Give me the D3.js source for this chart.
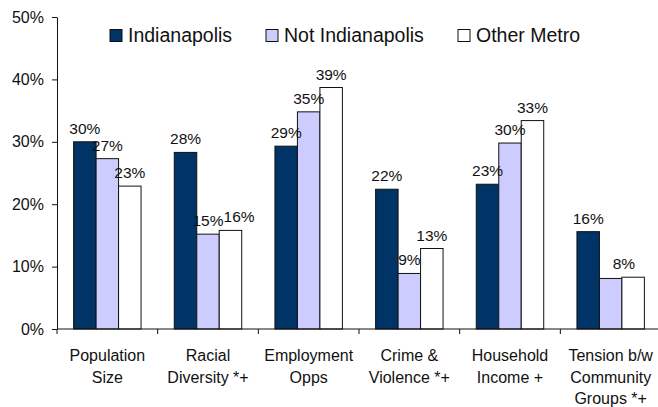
<!DOCTYPE html>
<html>
<head>
<meta charset="utf-8">
<script src="https://cdn.jsdelivr.net/npm/d3@7"></script>
<style>
  body { margin: 0; background: #fff; }
  svg { display: block; font-family: "Liberation Sans", Arial, sans-serif; }
</style>
</head>
<body>
<div class="chart"></div>
<script>
// Chart data
var categories = [
    ["Population", "Size"],
    ["Racial", "Diversity *+"],
    ["Employment", "Opps"],
    ["Crime &", "Violence *+"],
    ["Household", "Income +"],
    ["Tension b/w", "Community", "Groups *+"]
];
var seriesNames = ["Indianapolis", "Not Indianapolis", "Other Metro"];
var seriesColors = ["#003366", "#ccccff", "#ffffff"];
var indianapolis = [30.0, 28.3, 29.3, 22.4, 23.2, 15.6];
var notIndianapolis = [27.3, 15.2, 34.8, 8.9, 29.8, 8.1];
var otherMetro = [22.9, 15.8, 38.7, 12.9, 33.4, 8.3];
var yTicks = [0, 10, 20, 30, 40, 50];

var series = [indianapolis, notIndianapolis, otherMetro];

var width = 658, height = 407;
var margin = {top: 17, right: -3, bottom: 78, left: 57};

var svg = d3.select(".chart").append("svg").attr("width", width).attr("height", height);

var x0 = d3.scaleBand()
    .domain(d3.range(categories.length))
    .range([margin.left, width - margin.right])
    .paddingInner(0.33).paddingOuter(0.165);
var x1 = d3.scaleBand()
    .domain(d3.range(series.length))
    .range([0, x0.bandwidth()]);
var y = d3.scaleLinear().domain([0, 50]).range([height - margin.bottom, margin.top]);

// full band width for the category tick marks
var step = x0.step();

// bars
var groups = svg.selectAll("g.cat").data(categories).enter().append("g")
    .attr("class", "cat")
    .attr("transform", function(d, i) { return "translate(" + x0(i) + ",0)"; });

groups.each(function(d, ci) {
    var g = d3.select(this);
    series.forEach(function(vals, si) {
        g.append("rect")
            .attr("x", x1(si))
            .attr("y", y(vals[ci]))
            .attr("width", x1.bandwidth())
            .attr("height", y(0) - y(vals[ci]))
            .attr("fill", seriesColors[si])
            .attr("stroke", "#111")
            .attr("stroke-width", 1);
    });
});

// value labels, nudged right when they run into the label before them
// (the light Tension label sits under the white one in the original)
groups.each(function(d, ci) {
    var g = d3.select(this);
    var prev = null;
    series.forEach(function(vals, si) {
        if (ci == 5 && si == 1) return;
        var cx = x1(si) + x1.bandwidth() / 2;
        if (ci == 5 && si == 2) cx = x1(si) + 2;
        var ty = y(vals[ci]) - 8;
        var t = g.append("text")
            .attr("x", cx)
            .attr("y", ty)
            .attr("text-anchor", "middle")
            .attr("font-size", "15.5px")
            .attr("fill", "#111")
            .text(Math.round(vals[ci]) + "%");
        var w = t.node().getComputedTextLength();
        if (prev && Math.abs(prev.y - ty) < 11 && cx - w / 2 < prev.right) {
            cx = prev.right + w / 2;
            t.attr("x", cx);
        }
        prev = {y: ty, right: cx + w / 2};
    });
});

// y axis
var yAxis = d3.axisLeft(y).tickValues(yTicks).tickSize(5).tickSizeOuter(0)
    .tickFormat(function(d) { return d + "%"; });
var yg = svg.append("g").attr("transform", "translate(" + margin.left + ",0)").call(yAxis);
yg.select(".domain").attr("stroke", "#111");
yg.selectAll(".tick line").attr("stroke", "#111");
yg.selectAll(".tick text").attr("font-size", "16px").attr("fill", "#111")
    .attr("font-family", "Liberation Sans, Arial, sans-serif").attr("x", -13);

// x axis line and category tick marks
svg.append("line")
    .attr("x1", margin.left).attr("x2", width)
    .attr("y1", y(0)).attr("y2", y(0))
    .attr("stroke", "#111");
d3.range(categories.length + 1).forEach(function(i) {
    var tx = margin.left + i * step;
    svg.append("line")
        .attr("x1", tx).attr("x2", tx)
        .attr("y1", y(0)).attr("y2", y(0) + 5)
        .attr("stroke", "#111");
});

// category labels
groups.each(function(d, ci) {
    var t = d3.select(this).append("text")
        .attr("text-anchor", "middle")
        .attr("font-size", "16px")
        .attr("fill", "#111");
    d.forEach(function(line, li) {
        t.append("tspan")
            .attr("x", x0.bandwidth() / 2)
            .attr("y", 361 + li * 21.5)
            .text(line);
    });
});

// legend
var legendX = [110, 266, 458];
seriesNames.forEach(function(name, i) {
    svg.append("rect")
        .attr("x", legendX[i]).attr("y", 29.5)
        .attr("width", 12).attr("height", 12)
        .attr("fill", seriesColors[i])
        .attr("stroke", "#111");
    svg.append("text")
        .attr("x", legendX[i] + 18).attr("y", 41.5)
        .attr("font-size", "19.5px")
        .attr("fill", "#111")
        .text(name);
});
</script>
</body>
</html>
